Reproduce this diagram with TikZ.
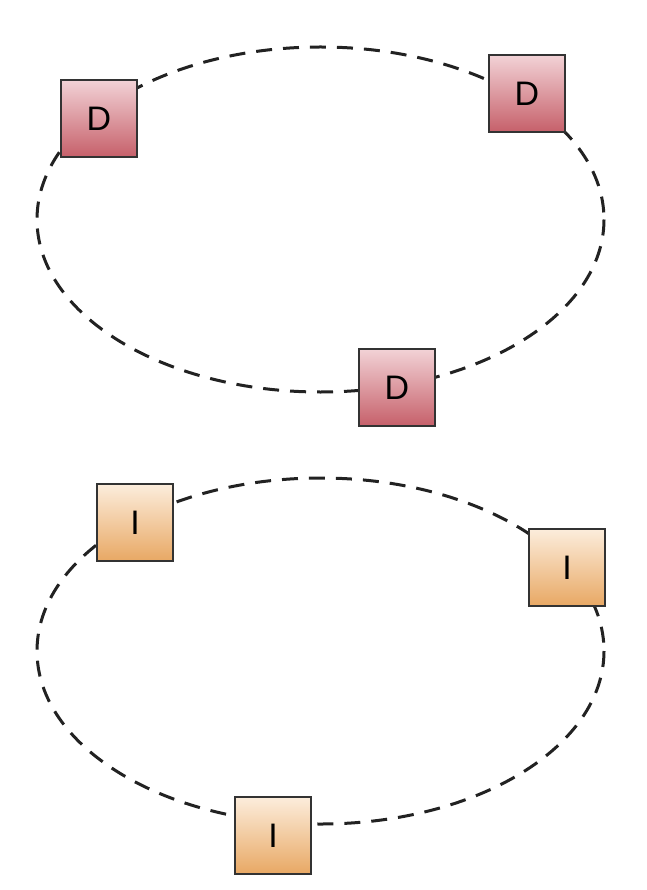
\documentclass[tikz,border=0pt]{standalone}
\usepackage{fontspec}
\setmainfont{Liberation Sans}
\definecolor{dtop}{HTML}{F2D2D6}
\definecolor{dbot}{HTML}{C6606A}
\definecolor{itop}{HTML}{FCEDDC}
\definecolor{ibot}{HTML}{E8A864}
\definecolor{ring}{HTML}{222222}
\begin{document}
\begin{tikzpicture}[x=1pt,y=-1pt,
  ringline/.style={draw=ring,line width=3pt,dash pattern=on 16pt off 11pt},
  dbox/.style={draw=black!80,line width=1.3pt,minimum width=76pt,minimum height=77pt,inner sep=0pt,
    top color=dtop,bottom color=dbot,font=\fontsize{34}{34}\selectfont},
  ibox/.style={draw=black!80,line width=1.3pt,minimum width=76pt,minimum height=77pt,inner sep=0pt,
    top color=itop,bottom color=ibot,font=\fontsize{34}{34}\selectfont}]
\useasboundingbox (0,0) rectangle (646,890);
\draw[ringline] (320.5,219.5) ellipse [x radius=283.5, y radius=172.5];
\draw[ringline] (320.5,651) ellipse [x radius=283.5, y radius=173];
\node[dbox] (d1) at (99,118.5) {D};
\node[dbox] (d2) at (527,93.5) {D};
\node[dbox] (d3) at (397,387.5) {D};
\node[ibox] (i1) at (135,522.5) {I};
\node[ibox] (i2) at (567,567.5) {I};
\node[ibox] (i3) at (273,835.5) {I};
\end{tikzpicture}
\end{document}
